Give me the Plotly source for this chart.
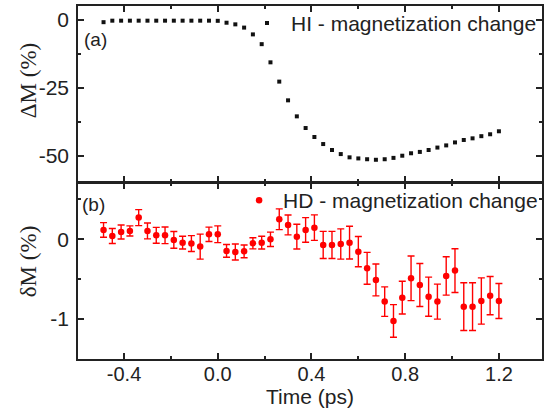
import plotly.graph_objects as go

# ---- data ----
time_ps = [-0.4875, -0.45, -0.4125, -0.375, -0.3375, -0.3, -0.2625, -0.225, -0.1875, -0.15,
           -0.1125, -0.075, -0.0375, 0.0, 0.0375, 0.075, 0.1125, 0.15, 0.1875, 0.225,
           0.2625, 0.3, 0.3375, 0.375, 0.4125, 0.45, 0.4875, 0.525, 0.5625, 0.6,
           0.6375, 0.675, 0.7125, 0.75, 0.7875, 0.825, 0.8625, 0.9, 0.9375, 0.975,
           1.0125, 1.05, 1.0875, 1.125, 1.1625, 1.2]

hi_change = [-0.8, -0.25, -0.25, -0.25, -0.25, -0.25, -0.25, -0.25, -0.25, -0.25,
             -0.25, -0.25, -0.25, -0.3, -1.0, -1.6, -2.8, -5.3, -8.9, -15.6,
             -22.7, -29.6, -35.5, -39.8, -43.1, -45.7, -47.9, -49.4, -50.6, -51.0,
             -51.3, -51.5, -51.3, -50.8, -50.0, -49.1, -48.6, -47.9, -47.0, -46.2,
             -45.1, -44.2, -43.6, -42.8, -42.1, -41.0]

hd_change = [0.117, 0.042, 0.092, 0.105, 0.272, 0.105, 0.050, 0.050, -0.008, -0.042,
             -0.054, -0.092, 0.063, 0.063, -0.146, -0.159, -0.151, -0.050, -0.042, 0.0,
             0.251, 0.180, 0.033, 0.117, 0.146, -0.071, -0.071, -0.059, -0.042, -0.155,
             -0.364, -0.510, -0.782, -1.025, -0.732, -0.490, -0.573, -0.720, -0.782, -0.460,
             -0.393, -0.845, -0.845, -0.774, -0.707, -0.774]

hd_error = [0.092, 0.094, 0.088, 0.063, 0.10, 0.10, 0.10, 0.105, 0.105, 0.08,
            0.10, 0.157, 0.09, 0.105, 0.08, 0.10, 0.08, 0.07, 0.08, 0.09,
            0.13, 0.125, 0.155, 0.155, 0.16, 0.17, 0.17, 0.19, 0.205, 0.19,
            0.20, 0.20, 0.185, 0.205, 0.205, 0.28, 0.27, 0.245, 0.22, 0.24,
            0.275, 0.30, 0.30, 0.29, 0.24, 0.22]

x_tickvals = [-0.4, 0.0, 0.4, 0.8, 1.2]
x_ticktext = ["-0.4", "0.0", "0.4", "0.8", "1.2"]
top_tickvals = [0, -25, -50]
top_ticktext = ["0", "-25", "-50"]
bot_tickvals = [0, -1]
bot_ticktext = ["0", "-1"]

INK = "#222222"
FONT = "Liberation Sans"

fig = go.Figure()

fig.add_trace(go.Scatter(
    x=time_ps, y=hi_change, mode="markers", name="HI - magnetization change",
    xaxis="x2", yaxis="y2", legend="legend",
    marker=dict(symbol="square", size=4, color="#111111"),
))

fig.add_trace(go.Scatter(
    x=time_ps, y=hd_change, mode="markers", name="HD - magnetization change",
    xaxis="x", yaxis="y", legend="legend2",
    marker=dict(symbol="circle", size=6.5, color="#ff0000"),
    error_y=dict(type="data", array=hd_error, color="#ff0000", thickness=1.4, width=3.5),
))

axis_common = dict(
    showline=True, linecolor=INK, linewidth=1.6, mirror="ticks",
    ticks="inside", ticklen=6, tickwidth=1.5, tickcolor=INK,
    showgrid=False, zeroline=False,
)

xr = [-0.5965, 1.3839]

fig.update_layout(
    width=544, height=416,
    margin=dict(l=78, r=0, t=6, b=57),
    paper_bgcolor="white", plot_bgcolor="white",
    font=dict(family=FONT, color=INK),
    xaxis=dict(**axis_common, domain=[0, 1], anchor="y", range=xr,
               tickmode="array", tickvals=x_tickvals, ticktext=x_ticktext,
               tickfont=dict(size=20, family=FONT, color=INK), ticklabelstandoff=-4,
               minor=dict(ticks="inside", ticklen=3, tickwidth=1.5, tickcolor=INK,
                          tickmode="linear", tick0=0, dtick=0.2),
               title=dict(text="Time (ps)", font=dict(size=21, family=FONT, color=INK), standoff=0)),
    xaxis2=dict(**axis_common, domain=[0, 1], anchor="y2", range=xr, matches="x",
                tickmode="array", tickvals=x_tickvals, showticklabels=False,
                minor=dict(ticks="inside", ticklen=3, tickwidth=1.5, tickcolor=INK,
                           tickmode="linear", tick0=0, dtick=0.2)),
    yaxis=dict(**axis_common, domain=[0, 0.49717], anchor="x", range=[-1.502, 0.70],
               tickmode="array", tickvals=bot_tickvals, ticktext=bot_ticktext,
               tickfont=dict(size=21, family=FONT, color=INK), ticklabelstandoff=3,
               minor=dict(ticks="inside", ticklen=3, tickwidth=1.5, tickcolor=INK,
                          tickmode="linear", tick0=0, dtick=0.5)),
    yaxis2=dict(**axis_common, domain=[0.50170, 1], anchor="x2", range=[-59.65, 5.16],
                tickmode="array", tickvals=top_tickvals, ticktext=top_ticktext,
                tickfont=dict(size=21, family=FONT, color=INK), ticklabelstandoff=3,
                minor=dict(ticks="inside", ticklen=3, tickwidth=1.5, tickcolor=INK,
                           tickmode="linear", tick0=0, dtick=12.5)),
    legend=dict(x=0.3556, y=1.009, xanchor="left", yanchor="top",
                bgcolor="rgba(0,0,0,0)", borderwidth=0, itemwidth=38,
                font=dict(size=21, family=FONT, color=INK), itemsizing="trace"),
    legend2=dict(x=0.3386, y=0.507, xanchor="left", yanchor="top",
                 bgcolor="rgba(0,0,0,0)", borderwidth=0, itemwidth=38,
                 font=dict(size=21, family=FONT, color=INK), itemsizing="trace"),
    showlegend=True,
    annotations=[
        dict(text="ΔM (%)", xref="paper", yref="paper", x=-0.1073, y=0.7875,
             textangle=-90, showarrow=False, xanchor="center", yanchor="middle",
             font=dict(size=23, family="Liberation Serif", color=INK)),
        dict(text="δM (%)", xref="paper", yref="paper", x=-0.1073, y=0.2776,
             textangle=-90, showarrow=False, xanchor="center", yanchor="middle",
             font=dict(size=23, family="Liberation Serif", color=INK)),
        dict(text="(a)", xref="paper", yref="paper", x=0.0086, y=0.9065,
             showarrow=False, xanchor="left", yanchor="middle",
             font=dict(size=19, family=FONT, color=INK)),
        dict(text="(b)", xref="paper", yref="paper", x=0.0043, y=0.439,
             showarrow=False, xanchor="left", yanchor="middle",
             font=dict(size=19, family=FONT, color=INK)),
    ],
)

fig.write_html("out.html", config={"displayModeBar": False},
               post_script="document.body.style.margin='0';")
